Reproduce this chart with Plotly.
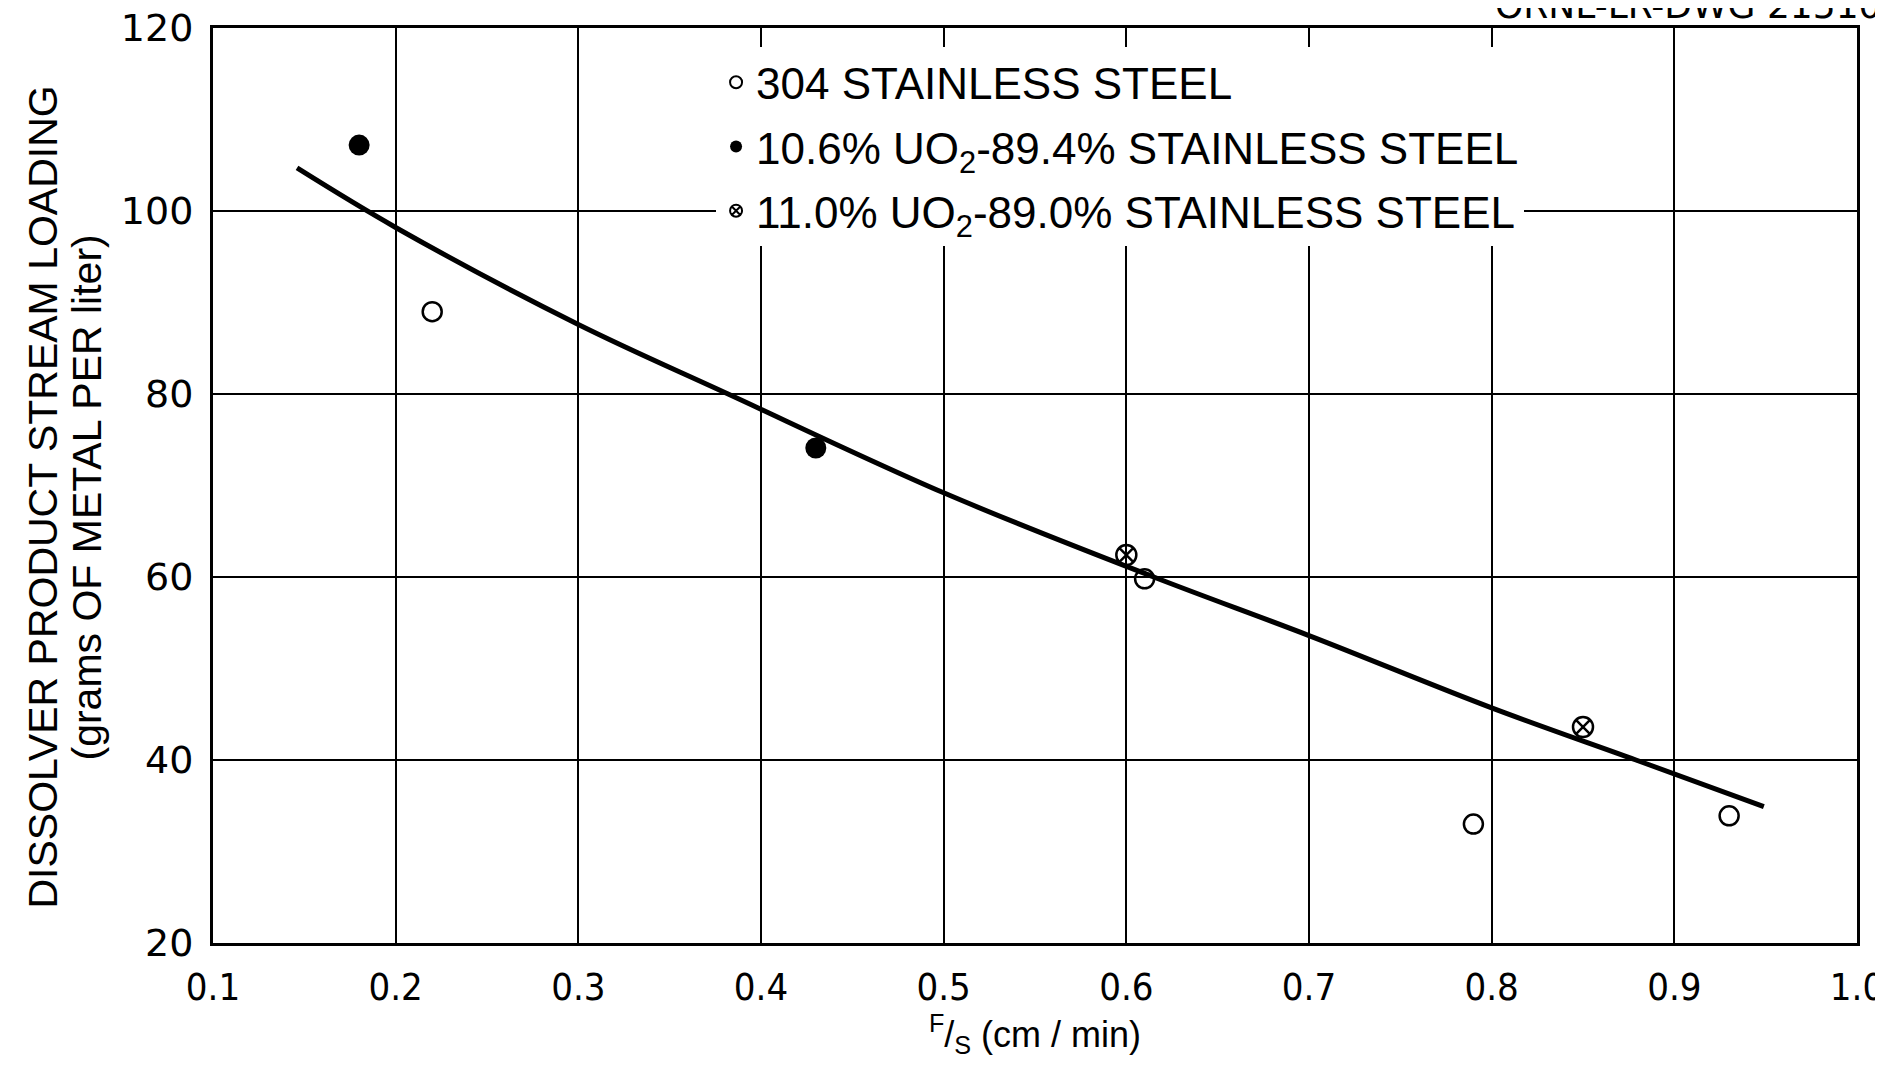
import plotly.graph_objects as go

# Data
ss304_x = [0.22, 0.61, 0.79, 0.93]
ss304_y = [89.0, 59.8, 33.0, 33.9]

uo2_106_x = [0.18, 0.43]
uo2_106_y = [107.2, 74.1]

uo2_110_x = [0.60, 0.85]
uo2_110_y = [62.4, 43.6]

curve_x = [0.146, 0.2, 0.3, 0.382, 0.5, 0.615, 0.7, 0.8, 0.879, 0.949]
curve_y = [104.7, 98.2, 87.6, 80.0, 69.2, 60.0, 53.6, 45.7, 40.0, 34.9]

x_ticks = [0.1, 0.2, 0.3, 0.4, 0.5, 0.6, 0.7, 0.8, 0.9, 1.0]
x_tick_text = ["0.1", "0.2", "0.3", "0.4", "0.5", "0.6", "0.7", "0.8", "0.9", "1.0"]
y_ticks = [20, 40, 60, 80, 100, 120]
y_tick_text = ["20", "40", "60", "80", "100", "120"]

label_304 = "304 STAINLESS STEEL"
label_106 = "10.6% UO<sub>2</sub>-89.4% STAINLESS STEEL"
label_110 = "11.0% UO<sub>2</sub>-89.0% STAINLESS STEEL"

y_title_1 = "DISSOLVER PRODUCT STREAM LOADING"
y_title_2 = "(grams OF METAL PER liter)"

fig = go.Figure()

fig.add_trace(go.Scatter(
    x=curve_x, y=curve_y, mode="lines",
    line=dict(color="black", width=5, shape="spline", smoothing=1.0),
    showlegend=False, hoverinfo="skip",
))

fig.add_trace(go.Scatter(
    x=ss304_x, y=ss304_y, mode="markers", name=label_304, legendgroup="a",
    marker=dict(symbol="circle-open", size=19, color="black", line=dict(width=2.5, color="black")),
))
fig.add_trace(go.Scatter(
    x=uo2_106_x, y=uo2_106_y, mode="markers", name=label_106, legendgroup="b",
    marker=dict(symbol="circle", size=21, color="black"),
))
fig.add_trace(go.Scatter(
    x=uo2_110_x, y=uo2_110_y, mode="markers", name=label_110, legendgroup="c",
    marker=dict(symbol="circle-x-open", size=20, color="black", line=dict(width=2.5, color="black")),
))

title_font = dict(family="Liberation Sans, Arial, sans-serif", size=41, color="black")

fig.update_layout(
    width=1883, height=1067,
    paper_bgcolor="white", plot_bgcolor="white",
    margin=dict(l=205, r=34, t=20, b=132, autoexpand=False),
    font=dict(family="Liberation Sans, Arial, sans-serif", color="black"),
    legend=dict(
        x=0.306, y=0.979, xanchor="left", yanchor="top",
        bgcolor="white", borderwidth=0,
        font=dict(family="Liberation Sans, Arial, sans-serif", size=44, color="black"),
        tracegroupgap=4, itemsizing="constant",
    ),
    annotations=[
        dict(
            text="ORNL-LR-DWG 21510", xref="paper", yref="paper",
            x=1.016, y=1.0, xanchor="right", yanchor="bottom", yshift=0,
            showarrow=False,
            font=dict(family="DejaVu Sans, sans-serif", size=36, color="black"),
        ),
        dict(
            text=y_title_1, xref="paper", yref="paper", x=0, y=0.5,
            xanchor="center", yanchor="middle", xshift=-171, yshift=-12,
            textangle=-90, showarrow=False, font=title_font,
        ),
        dict(
            text=y_title_2, xref="paper", yref="paper", x=0, y=0.5,
            xanchor="center", yanchor="middle", xshift=-127, yshift=-12,
            textangle=-90, showarrow=False, font=title_font,
        ),
    ],
)

fig.update_xaxes(
    range=[0.1, 1.0], tickvals=x_ticks, ticktext=x_tick_text,
    showgrid=True, gridcolor="black", gridwidth=2,
    showline=True, linecolor="black", linewidth=3, mirror=True,
    zeroline=False, ticks="", ticklabelstandoff=8, automargin=False,
    ticklabeloverflow="allow",
    tickfont=dict(family="DejaVu Sans Condensed, DejaVu Sans, sans-serif", size=38, color="black"),
    title=dict(text="<sup>F</sup>/<sub>S</sub> (cm / min)", standoff=0,
               font=dict(family="Liberation Sans, Arial, sans-serif", size=36, color="black")),
)
fig.update_yaxes(
    range=[20, 120], tickvals=y_ticks, ticktext=y_tick_text,
    showgrid=True, gridcolor="black", gridwidth=2,
    showline=True, linecolor="black", linewidth=3, mirror=True,
    zeroline=False, ticks="", ticklabelstandoff=9, automargin=False,
    ticklabeloverflow="allow",
    tickfont=dict(family="DejaVu Sans, sans-serif", size=38, color="black"),
)

fig.write_html("out.html")
